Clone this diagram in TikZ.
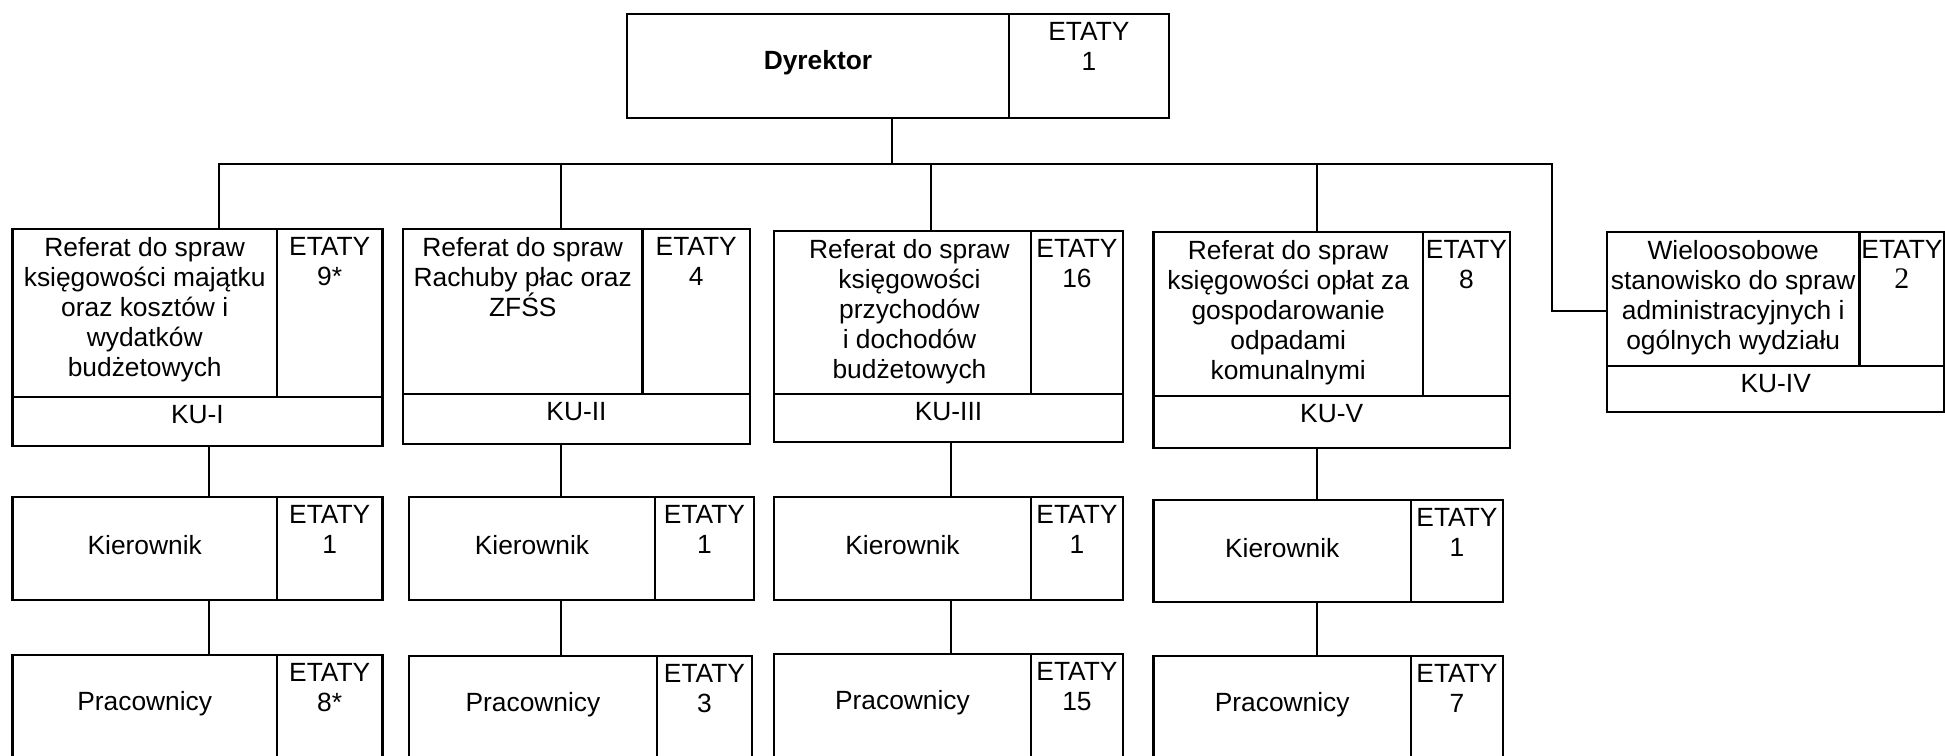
\documentclass[tikz,border=0pt]{standalone}
\usepackage{fontspec}
\setmainfont{Liberation Sans}
\newfontfamily\timesdigit{Liberation Serif}
\usepackage{tikz}

\tikzset{
    cell/.style={
        rectangle, anchor=north west, inner sep=0pt, outer sep=0pt,
        draw=black, line width=1.3pt,
    },
    celltext/.style={
        inner sep=0pt, align=center, text=black,
        font=\fontsize{15}{17}\selectfont,
    },
    toptext/.style={celltext, anchor=north, yshift=-0.17cm},
    midtext/.style={celltext, anchor=center, yshift=0.06cm},
    link/.style={draw=black, line width=0.9pt},
}

\begin{document}
\begin{tikzpicture}[x=0.02cm, y=-0.02cm]
        \useasboundingbox (0,0) rectangle (1945,755);
        \clip (0,0) rectangle (1945,755);

        % Dyrektor
        \node (dyr) at(627,14) [cell, minimum width=7.64cm, minimum height=2.08cm] {};
        \node (dyre) at(dyr.north east) [cell, minimum width=3.2cm, minimum height=2.08cm] {};
        \node (dyrt) at(dyr.center) [
            midtext,
            font=\fontsize{15}{17}\selectfont\bfseries,
        ] {Dyrektor};
        \node (dyret) at(dyre.north) [toptext] {ETATY\\1};

        % KU-I
        \node (r1) at(12.5,229) [cell, minimum width=5.29cm, minimum height=3.36cm] {};
        \node (r1e) at(r1.north east) [cell, minimum width=2.11cm, minimum height=3.36cm] {};
        \node (ku1) at(r1.south west) [cell, minimum width=7.4cm, minimum height=0.98cm] {};
        \node (r1t) at(r1.north) [toptext] {Referat do spraw\\księgowości majątku\\oraz kosztów i\\wydatków\\budżetowych};
        \node (r1et) at(r1e.north) [toptext] {ETATY\\9*};
        \node (ku1t) at(ku1.north) [toptext] {KU-I};

        % KU-II
        \node (r2) at(403,229) [cell, minimum width=4.79cm, minimum height=3.3cm] {};
        \node (r2e) at(r2.north east) [cell, minimum width=2.15cm, minimum height=3.3cm] {};
        \node (ku2) at(r2.south west) [cell, minimum width=6.94cm, minimum height=1.0cm] {};
        \node (r2t) at(r2.north) [toptext] {Referat do spraw\\Rachuby płac oraz\\ZFŚS};
        \node (r2et) at(r2e.north) [toptext] {ETATY\\4};
        \node (ku2t) at(ku2.north) [toptext] {KU-II};

        % KU-III
        \node (r3) at(774,231) [cell, minimum width=5.14cm, minimum height=3.26cm] {};
        \node (r3e) at(r3.north east) [cell, minimum width=1.84cm, minimum height=3.26cm] {};
        \node (ku3) at(r3.south west) [cell, minimum width=6.98cm, minimum height=0.96cm] {};
        \node (r3t) at(r3.north) [toptext, xshift=0.14cm] {Referat do spraw\\księgowości\\przychodów\\i dochodów\\budżetowych};
        \node (r3et) at(r3e.north) [toptext] {ETATY\\16};
        \node (ku3t) at(ku3.north) [toptext] {KU-III};

        % KU-V
        \node (r4) at(1153.5,232) [cell, minimum width=5.39cm, minimum height=3.28cm] {};
        \node (r4e) at(r4.north east) [cell, minimum width=1.74cm, minimum height=3.28cm] {};
        \node (ku4) at(r4.south west) [cell, minimum width=7.13cm, minimum height=1.04cm] {};
        \node (r4t) at(r4.north) [toptext] {Referat do spraw\\księgowości opłat za\\gospodarowanie\\odpadami\\komunalnymi};
        \node (r4et) at(r4e.north) [toptext] {ETATY\\8};
        \node (ku4t) at(ku4.north) [toptext] {KU-V};

        % KU-IV
        \node (r5) at(1607,232) [cell, minimum width=5.05cm, minimum height=2.68cm] {};
        \node (r5e) at(r5.north east) [cell, minimum width=1.7cm, minimum height=2.68cm] {};
        \node (ku5) at(r5.south west) [cell, minimum width=6.75cm, minimum height=0.92cm] {};
        \node (r5t) at(r5.north) [toptext] {Wieloosobowe\\stanowisko do spraw\\administracyjnych i\\ogólnych wydziału};
        \node (r5et) at(r5e.north) [toptext] {ETATY\\{\timesdigit\fontsize{17}{17}\selectfont 2}};
        \node (ku5t) at(ku5.north) [toptext] {KU-IV};

        % Kierownicy
        \node (k1) at(12.5,497) [cell, minimum width=5.29cm, minimum height=2.06cm] {};
        \node (k1e) at(k1.north east) [cell, minimum width=2.11cm, minimum height=2.06cm] {};
        \node (k1t) at(k1.center) [midtext] {Kierownik};
        \node (k1et) at(k1e.north) [toptext] {ETATY\\1};

        \node (k2) at(409,497) [cell, minimum width=4.92cm, minimum height=2.06cm] {};
        \node (k2e) at(k2.north east) [cell, minimum width=1.98cm, minimum height=2.06cm] {};
        \node (k2t) at(k2.center) [midtext] {Kierownik};
        \node (k2et) at(k2e.north) [toptext] {ETATY\\1};

        \node (k3) at(774,497) [cell, minimum width=5.14cm, minimum height=2.06cm] {};
        \node (k3e) at(k3.north east) [cell, minimum width=1.84cm, minimum height=2.06cm] {};
        \node (k3t) at(k3.center) [midtext] {Kierownik};
        \node (k3et) at(k3e.north) [toptext] {ETATY\\1};

        \node (k4) at(1153.5,500) [cell, minimum width=5.15cm, minimum height=2.04cm] {};
        \node (k4e) at(k4.north east) [cell, minimum width=1.84cm, minimum height=2.04cm] {};
        \node (k4t) at(k4.center) [midtext] {Kierownik};
        \node (k4et) at(k4e.north) [toptext] {ETATY\\1};

        % Pracownicy
        \node (p1) at(12.5,655) [cell, minimum width=5.29cm, minimum height=2.06cm] {};
        \node (p1e) at(p1.north east) [cell, minimum width=2.11cm, minimum height=2.06cm] {};
        \node (p1t) at(p1.center) [midtext] {Pracownicy};
        \node (p1et) at(p1e.north) [toptext] {ETATY\\8*};

        \node (p2) at(409,656) [cell, minimum width=4.96cm, minimum height=2.06cm] {};
        \node (p2e) at(p2.north east) [cell, minimum width=1.9cm, minimum height=2.06cm] {};
        \node (p2t) at(p2.center) [midtext] {Pracownicy};
        \node (p2et) at(p2e.north) [toptext] {ETATY\\3};

        \node (p3) at(774,654) [cell, minimum width=5.14cm, minimum height=2.06cm] {};
        \node (p3e) at(p3.north east) [cell, minimum width=1.84cm, minimum height=2.06cm] {};
        \node (p3t) at(p3.center) [midtext] {Pracownicy};
        \node (p3et) at(p3e.north) [toptext] {ETATY\\15};

        \node (p4) at(1153.5,656) [cell, minimum width=5.15cm, minimum height=2.06cm] {};
        \node (p4e) at(p4.north east) [cell, minimum width=1.84cm, minimum height=2.06cm] {};
        \node (p4t) at(p4.center) [midtext] {Pracownicy};
        \node (p4et) at(p4e.north) [toptext] {ETATY\\7};

        % connectors
        \coordinate (top) at(892,164);
        \coordinate (b1) at(219,164);
        \coordinate (b2) at(561,164);
        \coordinate (b3) at(931,164);
        \coordinate (b4) at(1317,164);
        \coordinate (b5) at(1552,164);
        \coordinate (c5) at(1552,311);
        \coordinate (v1) at(209,0);
        \coordinate (v2) at(561,0);
        \coordinate (v3) at(951,0);
        \coordinate (v4) at(1317,0);

        \draw[link] (top |- dyr.south) -- (top);
        \draw[link] (b1 |- r1.north) -- (b1) -- (b5) -- (c5) -- (c5 -| r5.west);
        \draw[link] (b2) -- (b2 |- r2.north);
        \draw[link] (b3) -- (b3 |- r3.north);
        \draw[link] (b4) -- (b4 |- r4.north);

        \draw[link] (v1 |- ku1.south) -- (v1 |- k1.north);
        \draw[link] (v2 |- ku2.south) -- (v2 |- k2.north);
        \draw[link] (v3 |- ku3.south) -- (v3 |- k3.north);
        \draw[link] (v4 |- ku4.south) -- (v4 |- k4.north);

        \draw[link] (v1 |- k1.south) -- (v1 |- p1.north);
        \draw[link] (v2 |- k2.south) -- (v2 |- p2.north);
        \draw[link] (v3 |- k3.south) -- (v3 |- p3.north);
        \draw[link] (v4 |- k4.south) -- (v4 |- p4.north);
    \end{tikzpicture}
\end{document}
